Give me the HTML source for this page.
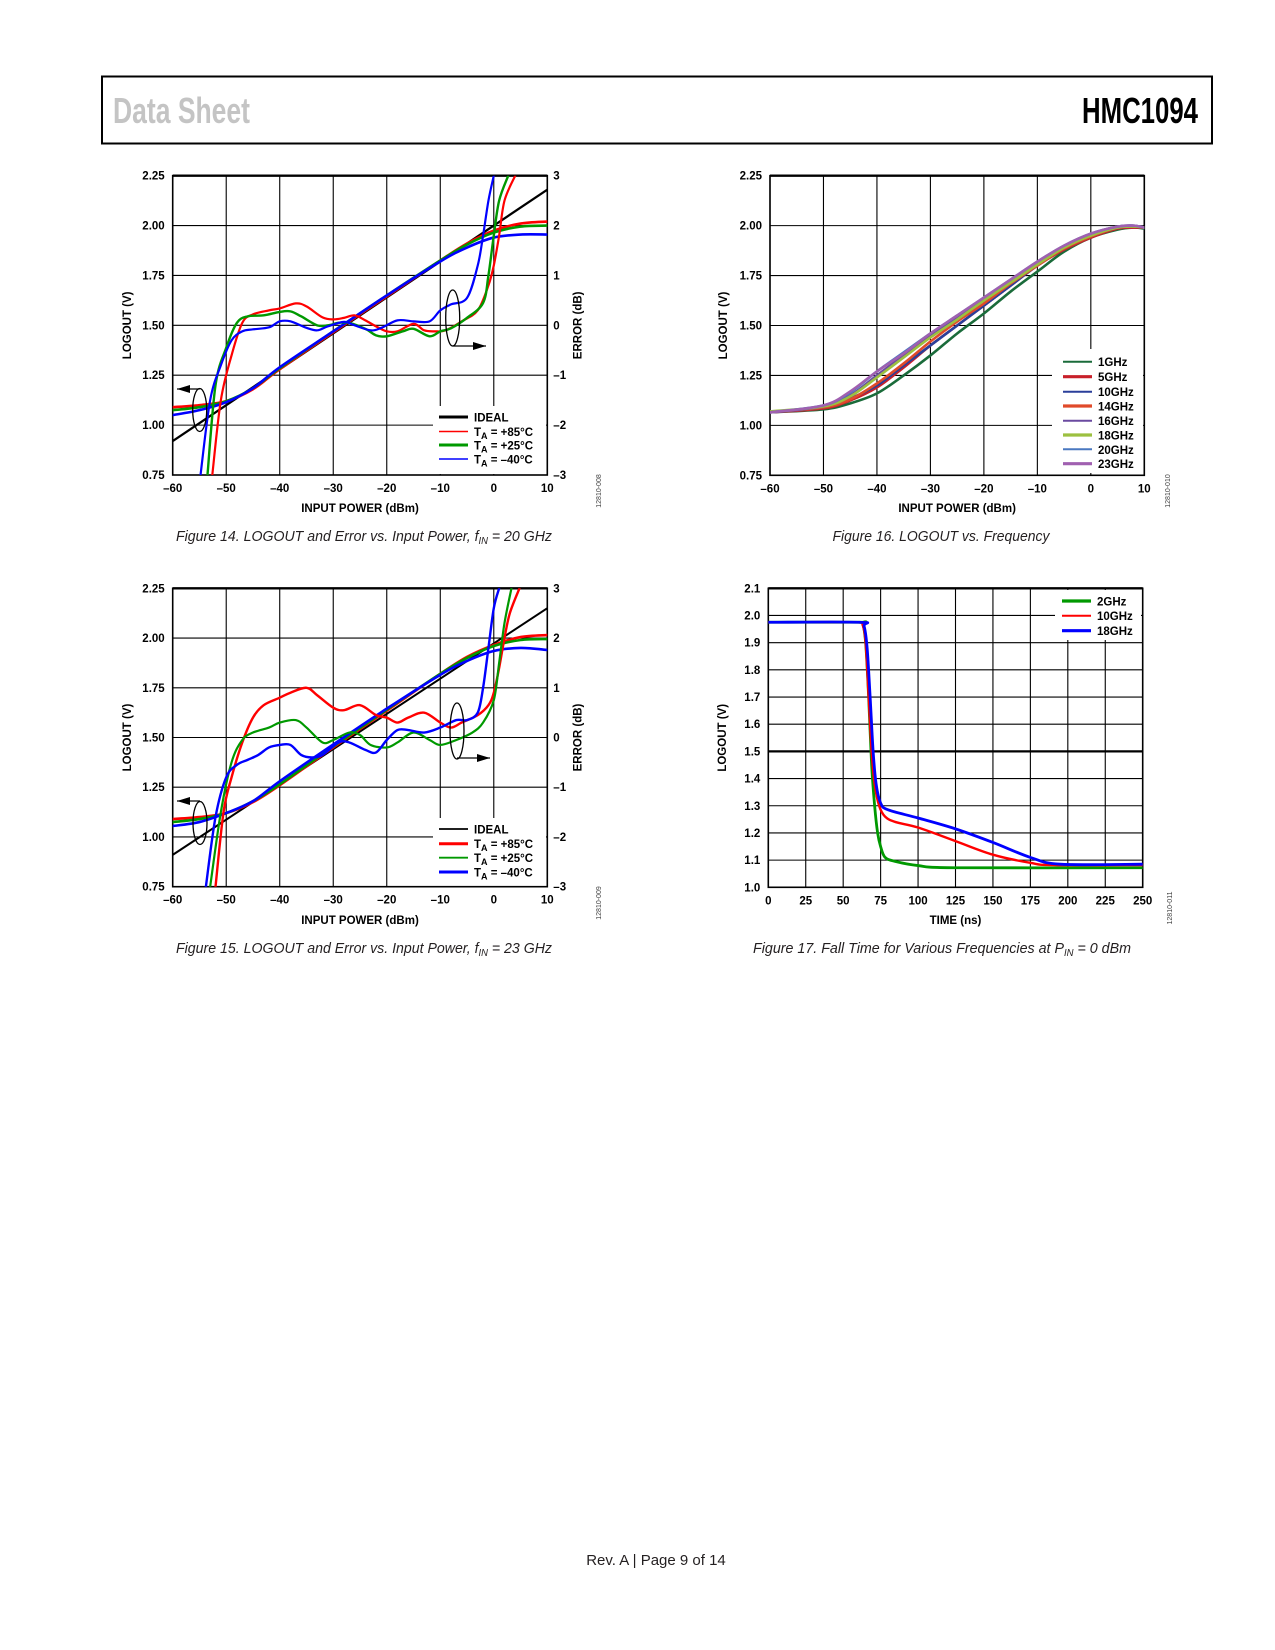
<!DOCTYPE html>
<html><head><meta charset="utf-8">
<style>
html,body{margin:0;padding:0;background:#fff;}
svg{display:block;}
text{font-family:"Liberation Sans",Arial,sans-serif;}
.tk{font-size:11.5px;font-weight:bold;fill:#000;}
.ttl{font-size:11.5px;font-weight:bold;fill:#000;}
.cap{font-size:15px;font-style:italic;fill:#231f20;}
.fid{font-size:7px;fill:#444;}
</style></head>
<body>
<svg id="page" xmlns="http://www.w3.org/2000/svg" width="1275" height="1650" viewBox="0 0 1275 1650">
<rect x="0" y="0" width="1275" height="1650" fill="#fff"/>
<g>
<rect x="102" y="76.5" width="1110" height="67" fill="none" stroke="#000" stroke-width="2"/>
<text x="113" y="123" font-size="36" font-weight="bold" fill="#c4c4c4" textLength="137" lengthAdjust="spacingAndGlyphs">Data Sheet</text>
<text x="1082" y="123" font-size="36" font-weight="bold" fill="#000" textLength="116" lengthAdjust="spacingAndGlyphs">HMC1094</text>
</g>
<text x="656" y="1565" font-size="15" fill="#231f20" text-anchor="middle">Rev. A | Page 9 of 14</text>
</svg>
<script>
// ---------- Figure 14 data ----------
const f14LogX = [-60,-55,-50,-45,-40,-30,-20,-10,-5,0,5,10];
const f14LogRed = [1.09,1.10,1.12,1.18,1.28,1.465,1.645,1.825,1.91,1.975,2.01,2.02];
const f14LogGreen = [1.075,1.09,1.12,1.185,1.285,1.47,1.65,1.825,1.905,1.965,1.995,2.00];
const f14LogBlue = [1.05,1.075,1.115,1.185,1.29,1.47,1.65,1.82,1.89,1.94,1.955,1.955];
const f14IdealX = [-60,10];
const f14IdealY = [0.92,2.18];
const f14ErrRedX = [-52.6,-51,-49,-47,-45,-42,-40,-37,-35,-32,-30,-28,-26,-24,-22,-20,-18,-15,-13,-11,-9,-6,-3,-1,0,1,2,4];
const f14ErrRedY = [-3,-1.5,-0.6,0.05,0.22,0.3,0.34,0.44,0.38,0.16,0.12,0.15,0.2,0.1,-0.02,-0.12,-0.12,0.03,-0.1,-0.12,-0.1,0.08,0.3,0.8,1.2,1.8,2.5,3];
const f14ErrGreenX = [-53.5,-52,-50,-48,-46,-43,-40,-38,-36,-33,-31,-29,-27,-24,-22,-20,-17,-15,-12,-10,-8,-5,-2,-1,0,1,2.7];
const f14ErrGreenY = [-3,-1.2,-0.45,0.05,0.18,0.2,0.27,0.28,0.18,0.0,0.0,0.05,0.05,-0.07,-0.2,-0.22,-0.12,-0.07,-0.22,-0.12,-0.06,0.15,0.45,1.0,1.8,2.5,3];
const f14ErrBlueX = [-54.8,-53,-51,-49,-47,-45,-42,-40,-38,-35,-33,-31,-28,-26,-23,-21,-18,-15,-12,-10,-8,-5,-3,-2,-1,0];
const f14ErrBlueY = [-3,-1.5,-0.8,-0.3,-0.12,-0.08,-0.04,0.08,0.08,-0.05,-0.1,-0.02,0.07,0,-0.1,-0.05,0.1,0.08,0.08,0.3,0.42,0.55,1.2,1.8,2.5,3];
// ---------- Figure 15 data ----------
const f15LogX = [-60,-55,-50,-45,-40,-30,-20,-10,-5,0,5,10];
const f15LogRed = [1.09,1.10,1.12,1.175,1.26,1.45,1.635,1.82,1.905,1.965,2.005,2.015];
const f15LogGreen = [1.075,1.09,1.12,1.18,1.265,1.455,1.64,1.82,1.90,1.96,1.99,1.995];
const f15LogBlue = [1.055,1.075,1.12,1.18,1.28,1.465,1.645,1.815,1.885,1.935,1.95,1.94];
const f15IdealX = [-60,10];
const f15IdealY = [0.91,2.15];
const f15ErrRedX = [-52,-50.5,-49,-47,-45,-43,-40,-38,-35,-33,-30,-28,-25,-22,-20,-18,-16,-13,-10,-8,-6,-3,-1,0,1,2,3,4.8];
const f15ErrRedY = [-3,-1.5,-0.8,-0.1,0.4,0.65,0.8,0.9,1.0,0.85,0.6,0.55,0.65,0.45,0.4,0.3,0.4,0.5,0.3,0.2,0.3,0.45,0.65,0.9,1.4,2.0,2.5,3];
const f15ErrGreenX = [-53,-51,-49,-47,-45,-42,-40,-37,-35,-32,-30,-27,-25,-23,-20,-18,-15,-12,-10,-7,-4,-2,0,1,2,3.3];
const f15ErrGreenY = [-3,-1.5,-0.5,-0.05,0.1,0.2,0.3,0.35,0.2,-0.1,-0.05,0.1,0.05,-0.15,-0.2,-0.1,0.1,-0.05,-0.15,-0.05,0.1,0.3,0.75,1.5,2.3,3];
const f15ErrBlueX = [-53.8,-52,-50,-48,-46,-44,-42,-40,-38,-36,-34,-32,-29,-27,-24,-22,-20,-18,-16,-13,-10,-7,-5,-3,-2,-1,0,1];
const f15ErrBlueY = [-3,-1.6,-0.8,-0.55,-0.45,-0.35,-0.2,-0.15,-0.15,-0.35,-0.4,-0.35,-0.1,-0.1,-0.25,-0.3,-0.05,0.15,0.15,0.1,0.2,0.35,0.35,0.5,1.0,1.8,2.6,3];
// ---------- Figure 16 data ----------
const f16X = [-60,-50,-45,-40,-35,-30,-25,-20,-15,-10,-5,0,5,8,10];
const f16Names = ['1GHz','5GHz','10GHz','14GHz','16GHz','18GHz','20GHz','23GHz'];
const f16G1 = [1.065,1.08,1.11,1.16,1.25,1.35,1.46,1.56,1.67,1.77,1.87,1.94,1.98,1.99,1.985];
const f16G5 = [1.065,1.085,1.125,1.19,1.29,1.40,1.50,1.60,1.70,1.80,1.88,1.94,1.985,1.99,1.99];
const f16G10 = [1.065,1.09,1.135,1.20,1.30,1.40,1.50,1.60,1.70,1.80,1.885,1.945,1.99,1.995,1.99];
const f16G14 = [1.065,1.09,1.13,1.21,1.31,1.42,1.52,1.61,1.71,1.80,1.885,1.945,1.99,1.995,1.99];
const f16G16 = [1.065,1.095,1.15,1.25,1.35,1.45,1.54,1.63,1.72,1.81,1.895,1.955,1.995,2.0,1.99];
const f16G18 = [1.07,1.095,1.145,1.24,1.34,1.44,1.53,1.625,1.715,1.805,1.89,1.95,1.99,1.995,1.99];
const f16G20 = [1.065,1.10,1.165,1.27,1.365,1.46,1.55,1.64,1.73,1.82,1.90,1.96,1.995,2.0,1.99];
const f16G23 = [1.065,1.10,1.17,1.27,1.36,1.46,1.55,1.64,1.73,1.82,1.90,1.96,1.995,2.0,1.99];
// ---------- Figure 17 data ----------
const f17GreenX = [0,60,63,65,67,69,71,73,75,78,85,100,125,250];
const f17GreenY = [1.975,1.975,1.97,1.9,1.7,1.45,1.3,1.2,1.15,1.11,1.095,1.08,1.072,1.072];
const f17RedX = [0,60,63,65,67,69,71,74,78,85,100,125,150,175,190,250];
const f17RedY = [1.975,1.975,1.965,1.9,1.7,1.5,1.38,1.3,1.26,1.24,1.22,1.17,1.12,1.09,1.082,1.082];
const f17BlueX = [0,61,64,66,68,70,72,75,80,100,125,150,175,195,250];
const f17BlueY = [1.975,1.975,1.96,1.88,1.7,1.5,1.38,1.31,1.285,1.255,1.215,1.165,1.11,1.085,1.085];
// tick labels
const lpXTicks = [-60,-50,-40,-30,-20,-10,0,10];
const lpYTicks = [0.75,1.00,1.25,1.50,1.75,2.00,2.25];
const errTicks = [-3,-2,-1,0,1,2,3];
const ftXTicks = [0,25,50,75,100,125,150,175,200,225,250];
const ftYTicks = [1.0,1.1,1.2,1.3,1.4,1.5,1.6,1.7,1.8,1.9,2.0,2.1];

const NS='http://www.w3.org/2000/svg';
const page=document.getElementById('page');
function mk(tag,attrs,parent,name){
  const e=document.createElementNS(NS,tag);
  for(const k in attrs) e.setAttribute(k,attrs[k]);
  
  
  parent.appendChild(e);
  return e;
}
function fmtNeg(v){return v<0?'\u2013'+Math.abs(v):String(v);}
function smooth(pts){
  let d='M'+pts[0][0].toFixed(2)+','+pts[0][1].toFixed(2);
  for(let i=0;i<pts.length-1;i++){
    const p0=pts[i-1]||pts[i],p1=pts[i],p2=pts[i+1],p3=pts[i+2]||p2;
    const c1x=p1[0]+(p2[0]-p0[0])/6,c1y=p1[1]+(p2[1]-p0[1])/6;
    const c2x=p2[0]-(p3[0]-p1[0])/6,c2y=p2[1]-(p3[1]-p1[1])/6;
    d+=' C'+c1x.toFixed(2)+','+c1y.toFixed(2)+' '+c2x.toFixed(2)+','+c2y.toFixed(2)+' '+p2[0].toFixed(2)+','+p2[1].toFixed(2);
  }
  return d;
}
let clipId=0;
function makeChart(o){
  const g=mk('g',{},page,o.name);
  const sx=v=>o.x0+(v-o.xmin)/(o.xmax-o.xmin)*(o.x1-o.x0);
  const sy=v=>o.y1-(v-o.ymin)/(o.ymax-o.ymin)*(o.y1-o.y0);
  const grid=mk('g',{stroke:'#000','stroke-width':1.1},g,'grid');
  o.xt.forEach(v=>{mk('line',{x1:sx(v),x2:sx(v),y1:o.y0,y2:o.y1},grid,'grid-line-x');});
  o.yt.forEach(v=>{mk('line',{x1:o.x0,x2:o.x1,y1:sy(v),y2:sy(v),'stroke-width':(o.thick===v?2.2:1.1)},grid,'grid-line-y');});
  if(o.leg) mk('rect',{x:o.leg[0],y:o.leg[1],width:o.leg[2],height:o.leg[3],fill:'#fff'},g,'legend-background');
  mk('rect',{x:o.x0,y:o.y0,width:o.x1-o.x0,height:o.y1-o.y0,fill:'none',stroke:'#000','stroke-width':1.6},g,'plot-frame');
  mk('line',{x1:o.x0,x2:o.x1,y1:o.y0,y2:o.y0,stroke:'#000','stroke-width':2.4},g,'plot-top-border');
  o.xt.forEach(v=>{const t=mk('text',{x:sx(v),y:o.y1+17,'text-anchor':'middle',class:'tk'},g,'x-tick-label');t.textContent=fmtNeg(v);});
  o.yt.forEach(v=>{const t=mk('text',{x:o.x0-8,y:sy(v)+4,'text-anchor':'end',class:'tk'},g,'y-tick-label');t.textContent=v.toFixed(o.ydec);});
  if(o.rt) o.rt.forEach(v=>{const t=mk('text',{x:o.x1+6,y:sy(o.ymin+(v+3)/6*(o.ymax-o.ymin))+4,class:'tk'},g,'right-tick-label');t.textContent=fmtNeg(v);});
  const xt=mk('text',{x:(o.x0+o.x1)/2,y:o.xTitleY,'text-anchor':'middle',class:'ttl'},g,'x-axis-title');xt.textContent=o.xTitle;
  const cy=(o.y0+o.y1)/2;
  const yt=mk('text',{x:0,y:0,transform:'translate('+o.yTitleX+','+cy+') rotate(-90)','text-anchor':'middle',class:'ttl'},g,'y-axis-title');yt.textContent='LOGOUT (V)';
  if(o.rt){const rt=mk('text',{x:0,y:0,transform:'translate('+(o.x1+34)+','+cy+') rotate(-90)','text-anchor':'middle',class:'ttl'},g,'y2-axis-title');rt.textContent='ERROR (dB)';}
  const id='clip'+(clipId++);
  const cp=mk('clipPath',{id:id},g,'plot-clip');
  mk('rect',{x:o.x0,y:o.y0,width:o.x1-o.x0,height:o.y1-o.y0},cp,'plot-clip-rect');
  const series=mk('g',{'clip-path':'url(#'+id+')',fill:'none','stroke-linecap':'round','stroke-linejoin':'round'},g,'series-group');
  o.sx=sx;o.sy=sy;o.series=series;o.g=g;
  return o;
}
function line(c,xs,ys,color,w,name,err){
  const pts=xs.map((x,i)=>[c.sx(x),c.sy(err?c.ymin+(ys[i]+3)/6*(c.ymax-c.ymin):ys[i])]);
  mk('path',{d:xs.length===2?('M'+pts[0]+' L'+pts[1]):smooth(pts),stroke:color,'stroke-width':w},c.series,name);
}
function legend(c,x,ys,items){
  const lg=mk('g',{},c.g,'legend');
  items.forEach((it,i)=>{
    mk('line',{x1:x,x2:x+29,y1:ys[i],y2:ys[i],stroke:it[1],'stroke-width':it[2]},lg,'legend-swatch');
    const t=mk('text',{x:x+35,y:ys[i]+4.5,class:'tk'},lg,'legend-label');
    if(it[3]){
      const a=document.createElementNS(NS,'tspan');a.textContent='T';t.appendChild(a);
      const b=document.createElementNS(NS,'tspan');b.setAttribute('font-size','9');b.setAttribute('dy','3');b.textContent='A';t.appendChild(b);
      const cc=document.createElementNS(NS,'tspan');cc.setAttribute('dy','-3');cc.textContent=' = '+it[0];t.appendChild(cc);
    } else t.textContent=it[0];
  });
}
function marker(c,cx,cy,h,ax,ay,toX){
  const m=mk('g',{fill:'none',stroke:'#000','stroke-width':1.3},c.g,'axis-indicator');
  mk('ellipse',{cx:cx,cy:cy,rx:7,ry:h/2},m,'indicator-ellipse');
  mk('line',{x1:ax,x2:toX,y1:ay,y2:ay},m,'indicator-arrow-line');
  const dir=toX>ax?1:-1;
  mk('polygon',{points:toX+','+ay+' '+(toX-dir*13)+','+(ay-4)+' '+(toX-dir*13)+','+(ay+4),fill:'#000',stroke:'none'},m,'indicator-arrowhead');
}
function caption(x,y,len,parts,name){
  const t=mk('text',{x:x,y:y,'text-anchor':'middle',class:'cap',textLength:len,lengthAdjust:'spacingAndGlyphs'},page,name);
  parts.forEach(p=>{const s=document.createElementNS(NS,'tspan');s.textContent=p[0];if(p[1])s.setAttribute('dy',p[1]);if(p[2])s.setAttribute('font-size',p[2]);t.appendChild(s);});
}
function figId(x,y,txt){
  const t=mk('text',{x:0,y:0,transform:'translate('+x+','+y+') rotate(-90)','text-anchor':'middle',class:'fid'},page,'figure-id');t.textContent=txt;
}

// Figure 14
const c14=makeChart({name:'figure-14-chart',x0:172.7,x1:547.3,y0:175.7,y1:475,xmin:-60,xmax:10,ymin:0.75,ymax:2.25,xt:lpXTicks,yt:lpYTicks,ydec:2,rt:errTicks,xTitle:'INPUT POWER (dBm)',xTitleY:512,yTitleX:131,leg:[433,406,113,68]});
line(c14,f14IdealX,f14IdealY,'#000',2.3,'ideal-line');
line(c14,f14LogX,f14LogRed,'#f00',2.6,'logout-85c');
line(c14,f14LogX,f14LogGreen,'#090',2.6,'logout-25c');
line(c14,f14LogX,f14LogBlue,'#00f',2.6,'logout-m40c');
line(c14,f14ErrRedX,f14ErrRedY,'#f00',2.2,'error-85c',true);
line(c14,f14ErrGreenX,f14ErrGreenY,'#090',2.4,'error-25c',true);
line(c14,f14ErrBlueX,f14ErrBlueY,'#00f',2.2,'error-m40c',true);
legend(c14,439,[417,431.5,445,459],[['IDEAL','#000',3],['+85\u00B0C','#f00',1.6,1],['+25\u00B0C','#090',3,1],['\u201340\u00B0C','#00f',1.6,1]]);
marker(c14,199.7,410,43,199.7,389,177);
marker(c14,452.7,318,56,452.7,346,486);
caption(364,541,376,[['Figure 14. LOGOUT and Error vs. Input Power, f'],['IN','3','10'],[' = 20 GHz','-3']],'figure-14-caption');
figId(601,491,'12810-008');

// Figure 15
const c15=makeChart({name:'figure-15-chart',x0:172.7,x1:547.3,y0:588.3,y1:886.7,xmin:-60,xmax:10,ymin:0.75,ymax:2.25,xt:lpXTicks,yt:lpYTicks,ydec:2,rt:errTicks,xTitle:'INPUT POWER (dBm)',xTitleY:924,yTitleX:131,leg:[433,818,113,68]});
line(c15,f15IdealX,f15IdealY,'#000',2,'ideal-line');
line(c15,f15LogX,f15LogRed,'#f00',2.6,'logout-85c');
line(c15,f15LogX,f15LogGreen,'#090',2.6,'logout-25c');
line(c15,f15LogX,f15LogBlue,'#00f',2.6,'logout-m40c');
line(c15,f15ErrRedX,f15ErrRedY,'#f00',2.4,'error-85c',true);
line(c15,f15ErrGreenX,f15ErrGreenY,'#090',2.2,'error-25c',true);
line(c15,f15ErrBlueX,f15ErrBlueY,'#00f',2.4,'error-m40c',true);
legend(c15,439,[829,843.7,857.7,872],[['IDEAL','#000',1.8],['+85\u00B0C','#f00',3,1],['+25\u00B0C','#090',1.8,1],['\u201340\u00B0C','#00f',3,1]]);
marker(c15,200,823,43,200,801,177);
marker(c15,457,731,56,457,758,490);
caption(364,953,376,[['Figure 15. LOGOUT and Error vs. Input Power, f'],['IN','3','10'],[' = 23 GHz','-3']],'figure-15-caption');
figId(601,903,'12810-009');

// Figure 16
const c16=makeChart({name:'figure-16-chart',x0:770,x1:1144.3,y0:175.7,y1:475.3,xmin:-60,xmax:10,ymin:0.75,ymax:2.25,xt:lpXTicks,yt:lpYTicks,ydec:2,xTitle:'INPUT POWER (dBm)',xTitleY:512,yTitleX:727,leg:[1052,349,91,124]});
const f16Colors=['#1a6b3a','#c8202a','#2a3f9a','#e04a2a','#6a4aa0','#9cc040','#4a78c0','#a060b0'];
const f16Series=[f16G1,f16G5,f16G10,f16G14,f16G16,f16G18,f16G20,f16G23];
f16Series.forEach((s,i)=>line(c16,f16X,s,f16Colors[i],2.6,'curve-'+f16Names[i]));
legend(c16,1063,[361.7,376.7,391.7,406,420.7,435,449.3,463.7],f16Names.map((n,i)=>[n,f16Colors[i],(i%2===0?2:3.2)]));
caption(941,541,217,[['Figure 16. LOGOUT vs. Frequency']],'figure-16-caption');
figId(1170,491,'12810-010');

// Figure 17
const c17=makeChart({name:'figure-17-chart',x0:768.3,x1:1142.7,y0:588.3,y1:887.3,xmin:0,xmax:250,ymin:1.0,ymax:2.1,xt:ftXTicks,yt:ftYTicks,ydec:1,thick:1.5,xTitle:'TIME (ns)',xTitleY:924,yTitleX:726,leg:[1055,590,86,50]});
line(c17,f17GreenX,f17GreenY,'#090',2.8,'curve-2ghz');
line(c17,f17RedX,f17RedY,'#f00',2.4,'curve-10ghz');
line(c17,f17BlueX,f17BlueY,'#00f',2.8,'curve-18ghz');
legend(c17,1062,[601,615.7,630.7],[['2GHz','#090',3.2],['10GHz','#f00',2],['18GHz','#00f',3.2]]);
caption(942,953,378,[['Figure 17. Fall Time for Various Frequencies at P'],['IN','3','10'],[' = 0 dBm','-3']],'figure-17-caption');
figId(1172,908,'12810-011');
</script>
</body></html>
